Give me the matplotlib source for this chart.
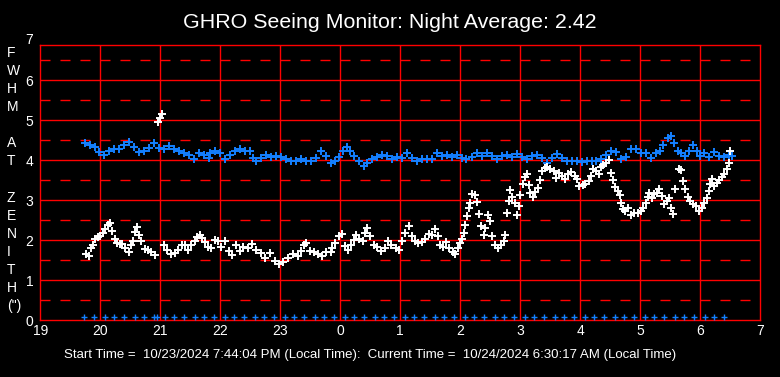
import matplotlib
matplotlib.use('Agg')
import matplotlib.pyplot as plt
import matplotlib.transforms as mtransforms

plt.rcParams['font.family'] = ['Liberation Sans', 'DejaVu Sans']

# hours since midnight of start day (24 = midnight, 30.5 = 6:30 AM)
white_t = [19.767, 19.806, 19.85, 19.878, 19.917, 19.961, 20.0, 20.044, 20.083, 20.128,
           20.167, 20.2, 20.239, 20.278, 20.322, 20.367, 20.417, 20.472, 20.517, 20.544,
           20.583, 20.611, 20.639, 20.683, 20.739, 20.794, 20.85, 20.906,
           20.97, 21.0, 21.03,
           21.061, 21.117, 21.183, 21.239, 21.294, 21.361, 21.417, 21.461, 21.517, 21.572,
           21.617, 21.656, 21.694, 21.739, 21.794,
           21.85, 21.906, 21.961, 22.017, 22.072, 22.139, 22.194, 22.267, 22.322, 22.383,
           22.461, 22.528, 22.6, 22.672, 22.739, 22.822, 22.906, 22.972, 23.044, 23.128,
           23.211, 23.294, 23.35, 23.394, 23.433, 23.489, 23.561, 23.628, 23.694, 23.767,
           23.839,
           23.861, 23.906, 23.972, 24.028, 24.083, 24.128, 24.183, 24.222, 24.261, 24.317,
           24.372, 24.417, 24.45, 24.5, 24.556, 24.611, 24.683, 24.75, 24.794, 24.85,
           24.928, 24.972, 25.028, 25.083, 25.139, 25.194, 25.239, 25.294, 25.361, 25.417,
           25.472, 25.528, 25.583, 25.628, 25.667, 25.706, 25.761, 25.817, 25.872, 25.917,
           25.961, 26.0,
           26.028, 26.056, 26.083, 26.111, 26.139, 26.167, 26.194, 26.239, 26.278, 26.306,
           26.35, 26.389, 26.417, 26.461, 26.5, 26.528, 26.572, 26.628, 26.683, 26.728,
           26.75, 26.778, 26.806, 26.833, 26.861, 26.906, 26.944, 26.972, 27.0, 27.039,
           27.083, 27.111, 27.139, 27.167, 27.206, 27.25, 27.294, 27.333, 27.361, 27.406,
           27.444, 27.5, 27.556, 27.594, 27.639, 27.694, 27.739, 27.794, 27.85, 27.906,
           27.944, 27.983, 28.039, 28.083, 28.139, 28.183, 28.211,
           28.217, 28.261, 28.306, 28.344, 28.383, 28.428, 28.472, 28.511, 28.539, 28.583,
           28.622, 28.661, 28.678, 28.706, 28.75, 28.789, 28.844, 28.9, 28.956, 29.011,
           29.05, 29.094, 29.122, 29.15, 29.194, 29.233, 29.272, 29.317, 29.361, 29.4,
           29.439, 29.472, 29.511, 29.539, 29.583, 29.639, 29.678, 29.717, 29.75, 29.789,
           29.828, 29.872, 29.928, 29.983, 30.028, 30.067, 30.106, 30.139, 30.161, 30.194,
           30.233, 30.272, 30.317, 30.361, 30.4, 30.439, 30.472, 30.5]
white_y = [1.667, 1.60, 1.808, 1.892, 2.033, 2.075, 2.10, 2.183, 2.292, 2.392,
           2.433, 2.225, 2.042, 1.933, 1.908, 1.908, 1.808, 1.708, 1.875, 1.975,
           2.208, 2.342, 2.142, 1.975, 1.792, 1.767, 1.708, 1.642,
           4.96, 5.04, 5.14,
           1.875, 1.767, 1.667, 1.683, 1.767, 1.875, 1.892, 1.767, 1.875, 1.975,
           2.075, 2.142, 2.058, 1.958, 1.825,
           1.808, 2.017, 1.975, 1.825, 1.975, 1.725, 1.642, 1.875, 1.725, 1.825,
           1.808, 1.908, 1.767, 1.683, 1.558, 1.683, 1.492, 1.408, 1.458, 1.558,
           1.658, 1.60, 1.725, 1.892, 1.933, 1.725, 1.708, 1.658, 1.60, 1.708,
           1.708,
           1.808, 1.933, 2.10, 2.158, 1.85, 1.767, 1.892, 2.017, 2.142, 2.042,
           1.992, 2.183, 2.308, 2.10, 1.892, 1.825, 1.742, 1.808, 1.992, 1.875,
           1.808, 1.767, 1.992, 2.183, 2.35, 2.10, 1.975, 1.933, 1.958, 2.042,
           2.158, 2.142, 2.292, 2.10, 1.892, 1.825, 1.958, 1.808, 1.708, 1.658,
           1.808, 1.933,
           2.042, 2.183, 2.375, 2.60, 2.808, 2.933, 3.158, 3.125, 2.958, 2.658,
           2.35, 2.142, 2.308, 2.642, 2.475, 2.10, 1.892, 1.808, 1.892, 1.992,
           2.142, 2.683, 2.983, 3.242, 3.075, 2.933, 2.642, 2.85, 3.125, 3.408,
           3.575, 3.642, 3.375, 3.183, 3.075, 3.208, 3.308, 3.492, 3.725, 3.792,
           3.825, 3.767, 3.725, 3.558, 3.683, 3.60, 3.517, 3.642, 3.708, 3.60,
           3.517, 3.35, 3.375, 3.408, 3.475, 3.60, 3.767,
           3.767, 3.725, 3.642, 3.825, 3.875, 3.933, 3.992, 3.683, 3.492, 3.325,
           3.225, 3.125, 2.933, 2.767, 2.725, 2.808, 2.625, 2.683, 2.683, 2.725,
           2.808, 2.933, 3.075, 3.183, 3.058, 3.142, 3.183, 3.267, 3.10, 2.892,
           2.975, 3.058, 2.808, 2.658, 3.283, 3.767, 3.742, 3.475, 3.283, 3.075,
           2.975, 2.892, 2.85, 2.742, 2.808, 2.933, 3.058, 3.225, 3.392, 3.533,
           3.35, 3.425, 3.492, 3.575, 3.642, 3.767, 3.933, 4.225]

blue_t = [19.739, 19.822, 19.906, 19.972, 20.056, 20.139, 20.222, 20.306, 20.389, 20.472,
          20.556, 20.639, 20.722, 20.806, 20.889, 20.972, 21.056, 21.139, 21.222, 21.306,
          21.389, 21.472, 21.556, 21.639, 21.722, 21.806,
          21.822, 21.906, 21.989, 22.072, 22.156, 22.239, 22.322, 22.406, 22.489, 22.544,
          22.6, 22.683, 22.767, 22.85, 22.933, 23.017, 23.1, 23.183, 23.267, 23.35,
          23.433, 23.517, 23.6, 23.683, 23.767, 23.85,
          23.917, 23.983, 24.039, 24.111, 24.167, 24.222, 24.306, 24.389, 24.444, 24.528,
          24.611, 24.694, 24.778, 24.861, 24.944, 25.028, 25.111, 25.194, 25.278, 25.361,
          25.444, 25.528, 25.611, 25.694, 25.778, 25.861, 25.944, 26.028, 26.094,
          26.194, 26.278, 26.361, 26.444, 26.528, 26.611, 26.694, 26.778, 26.861, 26.944,
          27.028, 27.111, 27.194, 27.278, 27.361, 27.444, 27.528, 27.611, 27.694, 27.778,
          27.861, 27.944, 28.028, 28.111, 28.194,
          28.261, 28.344, 28.428, 28.511, 28.594, 28.678, 28.761, 28.844, 28.928, 29.011,
          29.094, 29.178, 29.261, 29.328, 29.383, 29.456, 29.511, 29.567, 29.622, 29.678,
          29.75, 29.817, 29.883, 29.939, 29.994, 30.067, 30.15, 30.233, 30.317, 30.4,
          30.483, 30.528]
blue_y = [4.43, 4.39, 4.33, 4.21, 4.14, 4.24, 4.29, 4.27, 4.38, 4.46,
          4.33, 4.21, 4.24, 4.31, 4.42, 4.31, 4.29, 4.35, 4.27, 4.22,
          4.18, 4.14, 4.04, 4.18, 4.14, 4.06,
          4.18, 4.24, 4.18, 4.04, 4.14, 4.22, 4.27, 4.24, 4.24, 4.06,
          3.975, 4.06, 4.14, 4.075, 4.10, 4.075, 4.02, 3.975, 3.99, 4.02,
          3.99, 3.975, 4.06, 4.22, 4.10, 3.93,
          3.975, 4.075, 4.225, 4.325, 4.225, 4.10, 3.975, 3.85, 3.93, 4.04,
          4.075, 4.14, 4.10, 4.04, 4.075, 4.06, 4.18, 4.06, 3.99, 4.04,
          4.04, 4.02, 4.18, 4.10, 4.14, 4.075, 4.14, 4.06, 4.02,
          4.075, 4.18, 4.10, 4.18, 4.10, 4.04, 4.10, 4.125, 4.075, 4.158,
          4.075, 4.02, 4.10, 4.14, 4.06, 3.93, 4.06, 4.158, 4.06, 3.975,
          3.975, 3.99, 3.96, 3.975, 3.99,
          3.99, 4.02, 4.14, 4.24, 4.21, 4.04, 4.075, 4.267, 4.267, 4.18,
          4.18, 4.06, 4.18, 4.24, 4.39, 4.56, 4.60, 4.43, 4.24, 4.18,
          4.10, 4.225, 4.39, 4.225, 4.10, 4.18, 4.075, 4.21, 4.10, 4.075,
          4.125, 4.10]

# blue markers sitting on the zero line
zero_t = [19.73, 19.90, 20.07, 20.23, 20.40, 20.57, 20.73, 20.90, 20.95, 21.07,
          21.23, 21.40, 21.57, 21.73, 21.90, 22.07, 22.23, 22.40, 22.57, 22.73,
          22.90, 23.07, 23.23, 23.40, 23.57, 23.73, 23.90, 24.07, 24.23, 24.40,
          24.57, 24.73, 24.90, 25.07, 25.23, 25.40, 25.57, 25.73, 25.90, 26.07,
          26.23, 26.40, 26.57, 26.73, 26.90, 27.07, 27.23, 27.40, 27.57, 27.73,
          27.90, 28.07, 28.23, 28.40, 28.57, 28.73, 28.90, 29.07, 29.23, 29.40,
          29.57, 29.73, 29.90, 30.07, 30.23, 30.40]
zero_y = [0] * len(zero_t)

x_ticks = list(range(19, 32))
x_labels = ['19', '20', '21', '22', '23', '0', '1', '2', '3', '4', '5', '6', '7']
y_ticks = [0, 1, 2, 3, 4, 5, 6]
half_lines = [0.5, 1.5, 2.5, 3.5, 4.5, 5.5, 6.5]

title = 'GHRO Seeing Monitor: Night Average: 2.42'
footer = ('Start Time =  10/23/2024 7:44:04 PM (Local Time):  '
          'Current Time =  10/24/2024 6:30:17 AM (Local Time)')
ylabel_chars = ['F', 'W', 'H', 'M', '', 'A', 'T', '', 'Z', 'E', 'N', 'I', 'T', 'H', '(")']

W, H = 780, 377
fig = plt.figure(figsize=(W / 100, H / 100), dpi=100, facecolor='black')
ax = fig.add_axes([40.3 / W, (H - 320.3) / H, 720 / W, (320.3 - 45) / H])
ax.set_facecolor('black')
ax.set_xlim(19, 31)
ax.set_ylim(0, 6.875)

red = '#ff0000'
for v in range(20, 31):
    ax.axvline(v, color=red, lw=1.0, zorder=1)
for v in range(1, 7):
    ax.axhline(v, color=red, lw=1.0, zorder=1)
for v in half_lines:
    ax.axhline(v, color=red, lw=1.0, dashes=(7.2, 7.2), zorder=1)
for s in ax.spines.values():
    s.set_color(red)
    s.set_linewidth(1.0)

blue = '#1480ff'
ax.plot(blue_t, blue_y, '+', color=blue, ms=5.5, mew=1.4, zorder=3)
ax.plot(white_t, white_y, '+', color='white', ms=5.5, mew=1.4, zorder=4)
trans = mtransforms.offset_copy(ax.transData, fig=fig, y=3, units='dots')
ax.plot(zero_t, zero_y, '+', color=blue, ms=5, mew=1.0, transform=trans,
        clip_on=False, zorder=5)

ax.set_xticks(x_ticks, x_labels)
ax.set_yticks(y_ticks)
ax.tick_params(length=0, colors='white', labelsize=10)
ax.tick_params(axis='y', pad=5)
ax.tick_params(axis='x', pad=3)
ax.text(-7 / 720, 7, '7', transform=ax.get_yaxis_transform(), ha='right',
        va='center', color='white', fontsize=10, clip_on=False)

fig.text(0.5, 1 - 22 / H, title, ha='center', va='center', color='white', fontsize=15.4)
fig.text(370 / W, 1 - 355 / H, footer, ha='center', va='center', color='white', fontsize=9.5)
for i, ch in enumerate(ylabel_chars):
    fig.text(7 / W, 1 - (53 + 18.07 * i) / H, ch, ha='left', va='center',
             color='white', fontsize=10)

fig.savefig('out.png', dpi=100, facecolor='black')
